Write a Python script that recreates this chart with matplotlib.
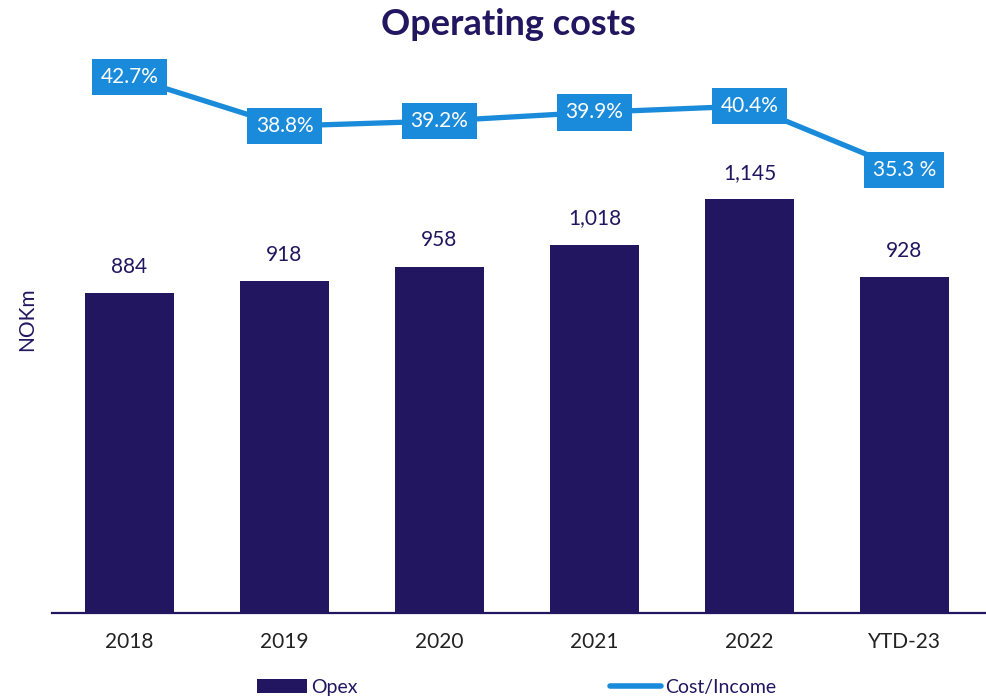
import numpy as np
import matplotlib.pyplot as plt
from matplotlib.patches import Patch
from matplotlib.lines import Line2D

plt.rcParams['font.family'] = ['Lato', 'DejaVu Sans']

# Opex (NOKm) and cost/income ratio (%) per period
periods = ["2018", "2019", "2020", "2021", "2022", "YTD-23"]
opex = [884, 918, 958, 1018, 1145, 928]
cost_income = [42.7, 38.8, 39.2, 39.9, 40.4, 35.3]
ci_labels = ["42.7%", "38.8%", "39.2%", "39.9%", "40.4%", "35.3 %"]

NAVY = "#231660"
BLUE = "#1A8BDA"

fig = plt.figure(figsize=(9.87, 6.97), dpi=100)
ax = fig.add_axes([0.0527, 0.1205, 0.9453, 0.7934])

x = np.arange(len(periods))
ax.bar(x, opex, width=0.57, color=NAVY, zorder=2)
for xi, v in zip(x, opex):
    ax.text(xi, v + 45, f"{v:,}", ha="center", va="bottom",
            fontsize=15, color=NAVY)

ax.set_xlim(-0.5, 5.52)
ax.set_ylim(0, 1529)
ax.set_xticks(x)
ax.set_xticklabels(periods, fontsize=15, color="#222222")
ax.tick_params(axis="x", length=0, pad=14)
ax.set_yticks([])
for side in ("top", "right", "left"):
    ax.spines[side].set_visible(False)
ax.spines["bottom"].set_color(NAVY)
ax.spines["bottom"].set_linewidth(1.6)
ax.set_ylabel("NOKm", fontsize=15, color=NAVY)
ax.yaxis.set_label_coords(-0.016, 0.532)

# cost/income ratio on its own scale
ax2 = ax.twinx()
ax2.set_ylim(0, 553 / 12.55)
ax2.plot(x, cost_income, color=BLUE, linewidth=3.8, zorder=3)
for xi, v, lab in zip(x, cost_income, ci_labels):
    ax2.text(xi, v, lab, ha="center", va="center", fontsize=15,
             color="white", zorder=4,
             bbox=dict(boxstyle="square,pad=0.4", facecolor=BLUE,
                       edgecolor="none"))
ax2.axis("off")

fig.text(0.515, 0.965, "Operating costs", ha="center", va="center",
         fontsize=26, fontweight="bold", color=NAVY)

handles = [Patch(facecolor=NAVY, edgecolor="none"),
           Line2D([0], [0], color=BLUE, linewidth=4, solid_capstyle="round")]
fig.legend(handles, ["Opex", "Cost/Income"], loc="center",
           bbox_to_anchor=(0.523, 0.014), ncol=2, frameon=False,
           fontsize=14, labelcolor=NAVY, columnspacing=13,
           handlelength=2.6, handletextpad=0.2)

fig.savefig("out.png", dpi=100)
